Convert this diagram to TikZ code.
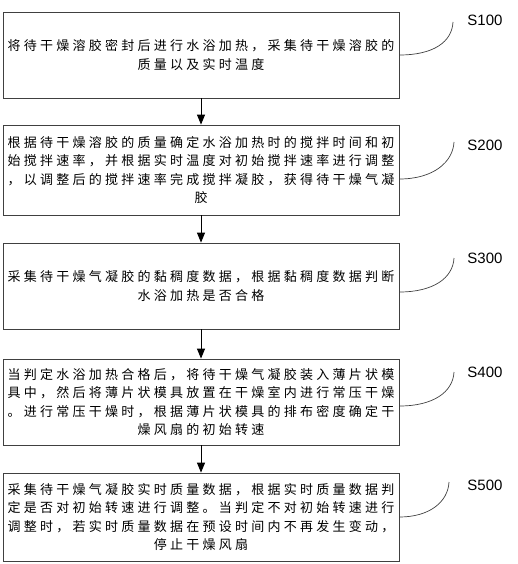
\documentclass[tikz,border=0pt]{standalone}
\usepackage{fontspec}
\newfontfamily\cjk{Noto Sans CJK SC}[LetterSpace=25]
\newfontfamily\labelfont{Liberation Sans}
\usepackage{tikz}
\usetikzlibrary{positioning, arrows.meta}

\begin{document}
\begin{tikzpicture}[
    x=1pt, y=-1pt,
    stepbox/.style={draw=black!75, line width=0.8pt, minimum width=396pt, inner sep=0pt,
        align=center, font=\cjk\fontsize{13}{18.6}\selectfont},
    steplabel/.style={font=\labelfont\fontsize{15}{15}\selectfont, inner sep=0pt},
    flow/.style={-{Triangle[length=10pt, width=8pt]}, line width=1pt, black},
    tag/.style={draw=black!75, line width=0.7pt}
]
\useasboundingbox (0,0) rectangle (517,564);

\node[stepbox, minimum height=86pt](s100) at (201, 55)
    {将待干燥溶胶密封后进行水浴加热，采集待干燥溶胶的\\质量以及实时温度};
\node[stepbox, minimum height=90pt](s200) at (201, 170)
    {根据待干燥溶胶的质量确定水浴加热时的搅拌时间和初\\始搅拌速率，并根据实时温度对初始搅拌速率进行调整\\，以调整后的搅拌速率完成搅拌凝胶，获得待干燥气凝\\胶};
\node[stepbox, minimum height=86pt](s300) at (201, 286)
    {采集待干燥气凝胶的黏稠度数据，根据黏稠度数据判断\\水浴加热是否合格};
\node[stepbox, minimum height=86pt](s400) at (201, 402)
    {当判定水浴加热合格后，将待干燥气凝胶装入薄片状模\\具中，然后将薄片状模具放置在干燥室内进行常压干燥\\。进行常压干燥时，根据薄片状模具的排布密度确定干\\燥风扇的初始转速};
\node[stepbox, minimum height=88pt](s500) at (201, 517)
    {采集待干燥气凝胶实时质量数据，根据实时质量数据判\\定是否对初始转速进行调整。当判定不对初始转速进行\\调整时，若实时质量数据在预设时间内不再发生变动，\\停止干燥风扇};

\node[steplabel](l100) at (485, 20) {S100};
\node[steplabel](l200) at (485, 145) {S200};
\node[steplabel](l300) at (485, 258) {S300};
\node[steplabel](l400) at (485, 372) {S400};
\node[steplabel](l500) at (485, 485) {S500};

\coordinate (e100) at (453, 22);
\coordinate (e200) at (454, 142);
\coordinate (e300) at (454, 258);
\coordinate (e400) at (454, 372);
\coordinate (e500) at (449, 482);

\draw[flow] (s100) -- (s200);
\draw[flow] (s200) -- (s300);
\draw[flow] (s300) -- (s400);
\draw[flow] (s400) -- (s500);

\draw[tag] (s100.east) .. controls +(34,0) and +(-1,20) .. (e100);
\draw[tag] ([yshift=-9pt]s200.east) .. controls +(34,0) and +(-1,20) .. (e200);
\draw[tag] ([yshift=-6pt]s300.east) .. controls +(34,0) and +(-1,20) .. (e300);
\draw[tag] ([yshift=-4pt]s400.east) .. controls +(34,0) and +(-1,20) .. (e400);
\draw[tag] (s500.east) .. controls +(30,0) and +(-1,20) .. (e500);
\end{tikzpicture}
\end{document}
